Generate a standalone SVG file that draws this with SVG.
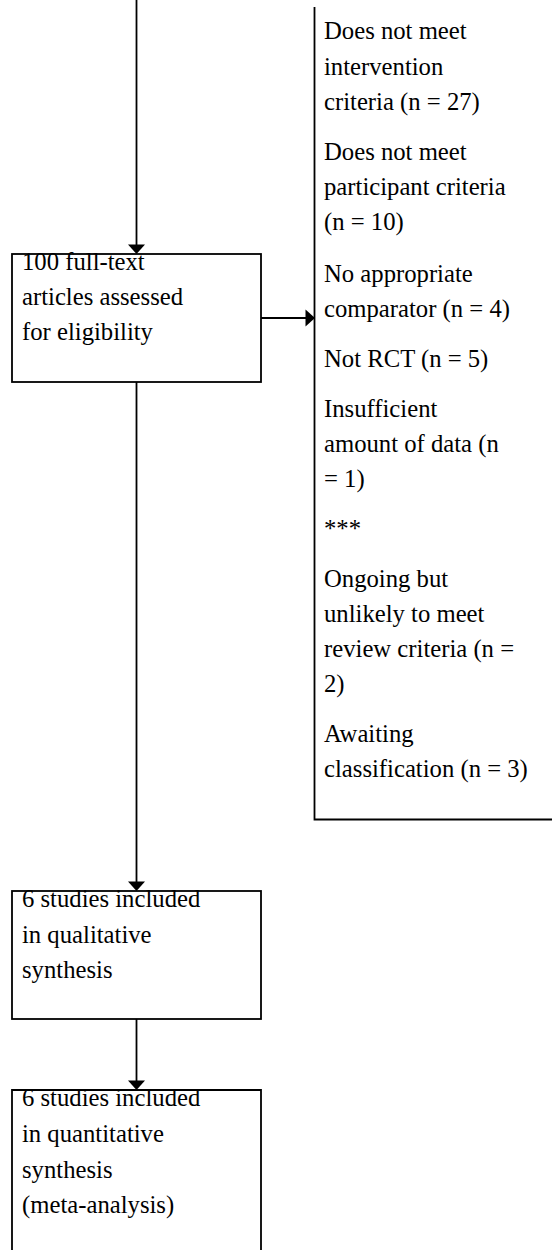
<svg xmlns="http://www.w3.org/2000/svg" width="552" height="1250" viewBox="0 0 552 1250">
<style>
.box{fill:#fff;stroke:#000;stroke-width:1.8}
.ln{fill:none;stroke:#000;stroke-width:1.8}
.ah{fill:#000}
text{font-family:"Liberation Serif","Times New Roman",serif;font-size:24.7px;fill:#000}
</style>
<rect width="552" height="1250" fill="#fff"/>
<g id="connectors">
<line class="ln" x1="136.5" y1="0" x2="136.5" y2="246"/>
<polygon class="ah" points="128,244.5 145,244.5 136.5,254"/>
<line class="ln" x1="261" y1="318" x2="307" y2="318"/>
<polygon class="ah" points="305.5,309.5 305.5,326.5 315,318"/>
<line class="ln" x1="136.5" y1="382" x2="136.5" y2="883"/>
<polygon class="ah" points="128,881.5 145,881.5 136.5,891"/>
<line class="ln" x1="136.5" y1="1019" x2="136.5" y2="1082"/>
<polygon class="ah" points="128,1080.5 145,1080.5 136.5,1090"/>
</g>
<g id="node-fulltext">
<rect class="box" x="12" y="254" width="249" height="128"/>
<text x="22" y="270">100 full-text</text>
<text x="22" y="305">articles assessed</text>
<text x="22" y="340">for eligibility</text>
</g>
<g id="node-excluded">
<path class="ln" d="M314.5,7 V819.5 H552"/>
<text x="324" y="39">Does not meet</text>
<text x="324" y="74.5">intervention</text>
<text x="324" y="110">criteria (n = 27)</text>
<text x="324" y="160">Does not meet</text>
<text x="324" y="195">participant criteria</text>
<text x="324" y="230">(n = 10)</text>
<text x="324" y="281.5">No appropriate</text>
<text x="324" y="317">comparator (n = 4)</text>
<text x="324" y="367">Not RCT (n = 5)</text>
<text x="324" y="417">Insufficient</text>
<text x="324" y="452">amount of data (n</text>
<text x="324" y="487">= 1)</text>
<text x="324" y="537">***</text>
<text x="324" y="587">Ongoing but</text>
<text x="324" y="622">unlikely to meet</text>
<text x="324" y="657">review criteria (n =</text>
<text x="324" y="692">2)</text>
<text x="324" y="742">Awaiting</text>
<text x="324" y="777">classification (n = 3)</text>
</g>
<g id="node-qualitative">
<rect class="box" x="12" y="891" width="249" height="128"/>
<text x="22" y="907">6 studies included</text>
<text x="22" y="942.5">in qualitative</text>
<text x="22" y="977.5">synthesis</text>
</g>
<g id="node-quantitative">
<path class="box" d="M12,1251 V1090 H261 V1251"/>
<text x="22" y="1106">6 studies included</text>
<text x="22" y="1141.5">in quantitative</text>
<text x="22" y="1177.5">synthesis</text>
<text x="22" y="1213">(meta-analysis)</text>
</g>
</svg>
